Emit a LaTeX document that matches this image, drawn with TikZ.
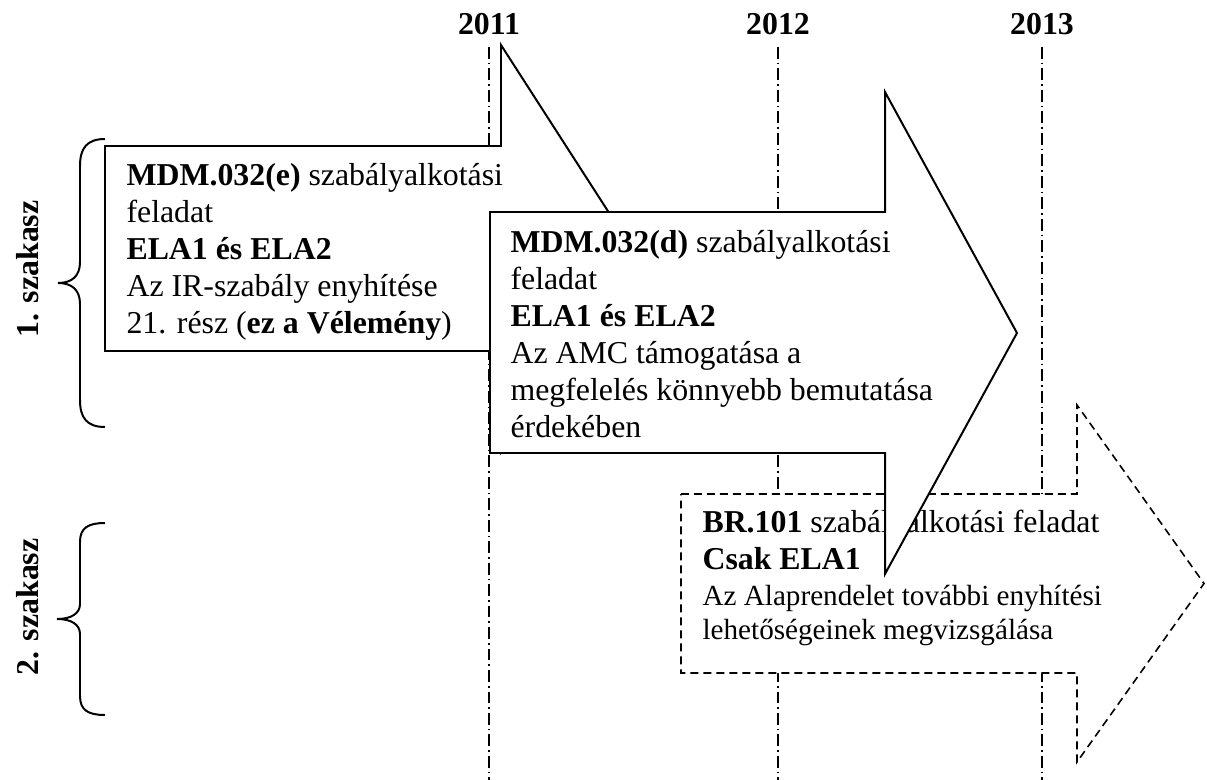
\documentclass[tikz,border=0pt]{standalone}
\usepackage{fontspec}
\setmainfont{Liberation Serif}
\usetikzlibrary{positioning}

\begin{document}
\begin{tikzpicture}[x=0.377pt, y=-0.377pt,
    year/.style={font=\fontsize{12}{14}\selectfont\bfseries, anchor=base, inner sep=0pt},
    yearline/.style={line width=0.5pt, dash pattern=on 4.5pt off 1.5pt on 0.6pt off 1.5pt},
    task/.style={draw, line width=0.75pt, fill=white, line join=miter},
    plannedtask/.style={task, line width=0.6pt, dash pattern=on 3pt off 1.9pt},
    tasktext/.style={font=\fontsize{12}{13.9}\selectfont, align=left, anchor=north west, inner sep=0pt},
    phase/.style={font=\fontsize{12}{14}\selectfont\bfseries, rotate=90, inner sep=0pt},
    brace/.style={line width=0.75pt}]

    \useasboundingbox (0,0) rectangle (1207,780);
    \coordinate (bottom) at (0,780);

    % years
    \node[year] (y2011) at (489,35) {2011};
    \node[year] (y2012) at (778,35) {2012};
    \node[year] (y2013) at (1042,35) {2013};
    \foreach \yr in {2011,2012,2013}
        \draw[yearline] ([yshift=-4.5pt]y\yr.base) -- (y\yr |- bottom);

    % phases
    \node[phase] (phase1) at (28,269) {1. szakasz};
    \node[phase] (phase2) at (28,607) {2. szakasz};
    \draw[brace] (105,139) .. controls (87,139) and (80,148) .. (80,166) -- (80,262)
        .. controls (80,276) and (72,283) .. (58,283) .. controls (72,283) and (80,290) .. (80,304)
        -- (80,400) .. controls (80,418) and (87,427) .. (105,427);
    \draw[brace] (105,523) .. controls (88,523) and (80,528) .. (80,542) -- (80,604)
        .. controls (80,613) and (72,619) .. (57,619) .. controls (72,619) and (80,625) .. (80,634)
        -- (80,696) .. controls (80,710) and (88,715) .. (105,715);

    % tasks
    \draw[plannedtask] (681,494) -- (1077,494) -- (1077,405) -- (1204,583.5) -- (1077,762) -- (1077,673) -- (681,673) -- cycle;
    \node[tasktext, font=\fontsize{12}{13.6}\selectfont] (br101) at (702,510)
        {\textbf{BR.101} szabályalkotási feladat\\\textbf{Csak ELA1}};
    \node[tasktext, font=\fontsize{11}{12.8}\selectfont, below right=5.6pt and 0pt of br101.south west] (br101desc)
        {Az Alaprendelet további enyhítési\\lehetőségeinek megvizsgálása};

    \draw[task] (105,146) -- (501,146) -- (501,45) -- (632,248.5) -- (501,452) -- (501,351) -- (105,351) -- cycle;
    \node[tasktext] (mdm32e) at (126,163)
        {\textbf{MDM.032(e)} szabályalkotási\\feladat\\\textbf{ELA1 és ELA2}\\Az IR-szabály enyhítése\\21. rész (\textbf{ez a Vélemény})};

    \draw[task] (490,212) -- (885,212) -- (885,92) -- (1017,333) -- (885,574) -- (885,453) -- (490,453) -- cycle;
    \node[tasktext] (mdm32d) at (510,230)
        {\textbf{MDM.032(d)} szabályalkotási\\feladat\\\textbf{ELA1 és ELA2}\\Az AMC támogatása a\\megfelelés könnyebb bemutatása\\érdekében};
\end{tikzpicture}
\end{document}
